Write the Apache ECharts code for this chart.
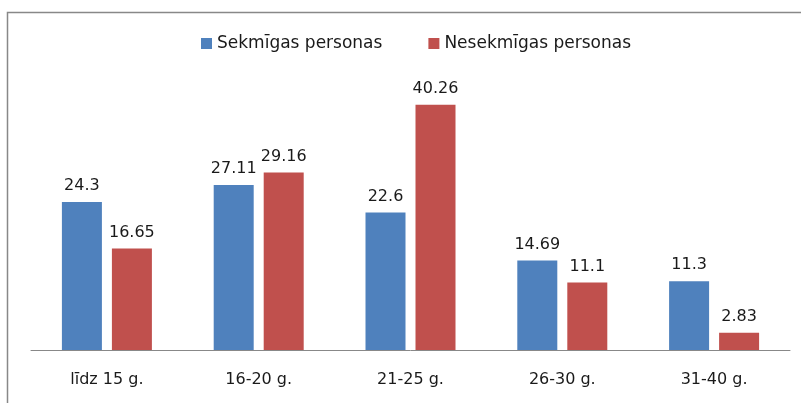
<!DOCTYPE html>
<html>
<head>
<meta charset="utf-8">
<script src="https://cdn.jsdelivr.net/npm/echarts@6/dist/echarts.min.js"></script>
<style>html,body{margin:0;padding:0;background:#fff;}#c{width:801px;height:403px;}</style>
</head>
<body>
<div id="c"></div>
<script>
var categories = ['līdz 15 g.', '16-20 g.', '21-25 g.', '26-30 g.', '31-40 g.'];
var seriesNames = ['Sekmīgas personas', 'Nesekmīgas personas'];
var sekmigas = [24.3, 27.11, 22.6, 14.69, 11.3];
var nesekmigas = [16.65, 29.16, 40.26, 11.1, 2.83];

var chart = echarts.init(document.getElementById('c'), null, {renderer: 'canvas'});
var FONT = 'DejaVu Sans';
var labelCfg = {show: true, position: 'top', distance: 8, color: '#1a1a1a', fontFamily: FONT, fontSize: 16};
chart.setOption({
  animation: false,
  backgroundColor: '#ffffff',
  graphic: [
    {type: 'polyline', shape: {points: [[7.5, 403], [7.5, 12.5], [801, 12.5]]}, style: {stroke: '#888888', lineWidth: 1.5, fill: null}}
  ],
  legend: {
    top: 30,
    left: 196,
    itemWidth: 11,
    itemHeight: 11,
    itemGap: 46,
    icon: 'rect',
    textStyle: {fontFamily: FONT, fontSize: 17, color: '#1a1a1a'},
    data: seriesNames
  },
  grid: {left: 31, right: 11, top: 76, bottom: 53, containLabel: false},
  xAxis: {
    type: 'category',
    data: categories,
    axisLine: {lineStyle: {color: '#888888', width: 1}},
    axisTick: {show: false},
    axisLabel: {margin: 22, color: '#1a1a1a', fontFamily: FONT, fontSize: 16}
  },
  yAxis: {type: 'value', min: 0, max: 45, show: false, splitLine: {show: false}},
  series: [
    {name: seriesNames[0], type: 'bar', data: sekmigas, barWidth: 40, barGap: '25%', itemStyle: {color: '#4F81BD'}, label: labelCfg},
    {name: seriesNames[1], type: 'bar', data: nesekmigas, barWidth: 40, barGap: '25%', itemStyle: {color: '#C0504D'}, label: labelCfg}
  ]
});
</script>
</body>
</html>
